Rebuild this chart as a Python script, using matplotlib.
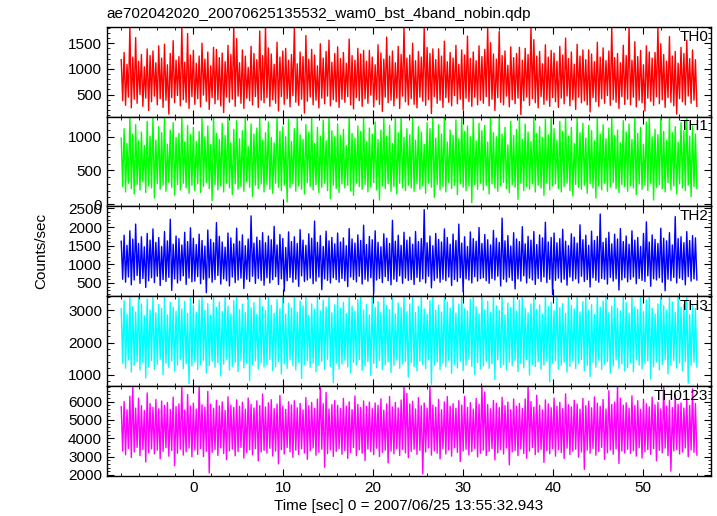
import numpy as np
import matplotlib
matplotlib.use("Agg")
import matplotlib.pyplot as plt
from matplotlib.ticker import MultipleLocator

plt.rcParams['font.family'] = ['Liberation Sans', 'DejaVu Sans']
plt.rcParams['font.size'] = 11

TITLE = "ae702042020_20070625135532_wam0_bst_4band_nobin.qdp"
XLABEL = "Time [sec] 0 = 2007/06/25 13:55:32.943"
YLABEL = "Counts/sec"
T_START, T_END = -8.0, 56.0

# The light curves are far too dense to read bin by bin, so each panel is
# read as the upper and lower edge of the trace in 0.32 s slices (counts/sec).
th0_hi = [
    1180, 1320, 1090, 1820, 1230, 1610, 1150, 1280, 1040, 1390, 1260, 1350, 1120, 1450, 1210, 1480, 1080, 1300, 1550, 1170, 1240, 1820, 1130, 1690, 1270,
    1360, 1110, 1250, 1500, 1190, 1330, 1060, 1420, 1380, 1220, 1310, 1140, 1460, 1280, 1820, 1590, 1120, 1370, 1250, 1030, 1440, 1300, 1180, 1740, 1260,
    1820, 1410, 1290, 1090, 1520, 1230, 1350, 1400, 1170, 1280, 1820, 1100, 1330, 1240, 1650, 1190, 1380, 1270, 1060, 1490, 1210, 1340, 1560, 1130, 1300,
    1430, 1200, 1320, 1110, 1580, 1260, 1170, 1400, 1290, 1360, 1150, 1360, 1230, 1080, 1470, 1310, 1190, 1620, 1250, 1350, 1120, 1440, 1280, 1820, 1210,
    1270, 1500, 1160, 1340, 1230, 1820, 1420, 1300, 1390, 1180, 1390, 1250, 1540, 1140, 1320, 1210, 1460, 1090, 1370, 1270, 1640, 1200, 1330, 1160, 1450,
    1240, 1380, 1820, 1510, 1290, 1190, 1730, 1260, 1350, 1070, 1430, 1220, 1300, 1420, 1170, 1400, 1280, 1820, 1570, 1250, 1340, 1100, 1470, 1230, 1360,
    1310, 1150, 1440, 1270, 1600, 1200, 1330, 1090, 1480, 1250, 1370, 1180, 1370, 1290, 1140, 1520, 1230, 1410, 1160, 1350, 1820, 1220, 1300, 1120, 1460,
    1260, 1820, 1170, 1530, 1240, 1360, 1080, 1450, 1330, 1210, 1320, 1820, 1490, 1280, 1150, 1630, 1250, 1340, 1110, 1420, 1300, 1560, 1200, 1370, 1180,
]
th0_lo = [
    380, 290, 450, 240, 410, 330, 500, 270, 430, 190, 360, 470, 300, 420, 250, 390, 120, 440, 340, 480, 280, 400, 350, 230, 460,
    310, 420, 260, 490, 370, 210, 440, 320, 400, 280, 150, 450, 350, 410, 270, 470, 330, 230, 430, 380, 300, 460, 250, 390, 340,
    440, 270, 400, 330, 180, 460, 310, 420, 260, 480, 350, 290, 410, 140, 370, 450, 300, 390, 240, 430, 320, 470, 280, 400, 360,
    250, 410, 350, 460, 300, 220, 440, 380, 270, 420, 330, 490, 260, 400, 310, 170, 450, 340, 390, 280, 430, 230, 470, 360, 300,
    420, 310, 240, 450, 370, 290, 400, 130, 460, 330, 390, 250, 440, 350, 280, 480, 320, 410, 200, 430, 360, 270, 450, 300, 390,
    330, 460, 280, 410, 190, 440, 350, 300, 470, 260, 400, 320, 430, 110, 380, 450, 290, 420, 340, 240, 460, 310, 390, 270, 440,
    360, 250, 430, 320, 470, 280, 400, 210, 450, 340, 380, 300, 160, 440, 360, 270, 420, 330, 480, 290, 400, 350, 230, 460, 310,
    410, 300, 450, 260, 390, 340, 180, 430, 370, 290, 460, 320, 400, 250, 440, 350, 280, 120, 420, 360, 300, 470, 330, 390, 270,
]
th1_hi = [
    980, 1120, 900, 1300, 1040, 1180, 940, 1070, 870, 1230, 1010, 1300, 950, 1150, 1060, 1300, 890, 1100, 1210, 990, 1050, 1300, 920, 1170, 1030,
    1140, 930, 1080, 1270, 1000, 1160, 880, 1300, 1050, 960, 1200, 1020, 1300, 910, 1110, 1240, 970, 1090, 1300, 860, 1190, 1040, 1130, 1300, 950,
    1060, 1220, 990, 910, 1300, 1080, 1150, 1000, 1260, 930, 1120, 1300, 1030, 960, 1180, 1070, 1300, 900, 1140, 1010, 1250, 940, 1300, 1090, 1000,
    1190, 1020, 1110, 870, 1300, 1050, 980, 1160, 1080, 1300, 930, 1130, 1040, 1220, 960, 1100, 1300, 1010, 1170, 900, 1280, 1060, 1300, 990, 1120,
    1030, 1300, 950, 1150, 1070, 890, 1210, 1120, 1300, 980, 1180, 1040, 1300, 920, 1100, 1020, 1250, 970, 1300, 1080, 1160, 1000, 1300, 940, 1200,
    1090, 1170, 920, 1300, 1060, 1000, 1300, 1040, 1140, 880, 1230, 1020, 1110, 1300, 960, 1190, 1070, 930, 1300, 1050, 1150, 990, 1260, 1030, 1300,
    1120, 950, 1230, 1080, 1300, 1010, 1140, 900, 1300, 1060, 1200, 980, 1170, 1090, 940, 1300, 1040, 1180, 970, 1130, 1300, 1020, 1100, 910, 1240,
    1070, 1190, 960, 1300, 1050, 1140, 890, 1220, 1300, 1000, 1110, 1030, 1270, 1080, 950, 1300, 1060, 1150, 920, 1210, 1090, 1300, 1010, 1160, 1040,
]
th1_lo = [
    260, 180, 310, 230, 150, 290, 210, 330, 170, 270, 240, 90, 300, 220, 280, 190, 320, 250, 130, 290, 210, 310, 240, 160, 280,
    200, 300, 170, 260, 320, 230, 50, 290, 210, 270, 180, 310, 240, 140, 300, 220, 260, 190, 330, 250, 110, 280, 230, 300, 180,
    290, 220, 160, 310, 250, 200, 280, 30, 240, 300, 190, 270, 220, 150, 320, 260, 210, 290, 170, 250, 310, 200, 80, 280, 230,
    170, 300, 240, 280, 200, 130, 310, 260, 220, 290, 180, 250, 320, 210, 60, 270, 230, 300, 190, 260, 150, 310, 240, 200, 280,
    240, 190, 300, 220, 270, 160, 310, 250, 100, 290, 210, 260, 180, 320, 230, 280, 140, 300, 250, 200, 270, 20, 290, 220, 310,
    210, 280, 150, 300, 240, 190, 270, 320, 230, 170, 290, 250, 70, 310, 200, 260, 220, 300, 180, 280, 240, 130, 310, 210, 270,
    300, 230, 180, 260, 310, 200, 120, 290, 250, 220, 280, 160, 300, 240, 90, 270, 210, 310, 190, 250, 320, 230, 170, 290, 260,
    190, 270, 240, 140, 300, 220, 280, 200, 310, 60, 250, 290, 230, 180, 320, 210, 270, 150, 300, 240, 200, 280, 110, 260, 230,
]
th2_hi = [
    1620, 1780, 1510, 1900, 1680, 2080, 1560, 1740, 1470, 1830, 1650, 1950, 1590, 1720, 1480, 1880, 1630, 2210, 1540, 1760, 1690, 1520, 1860, 1610, 1980,
    1700, 1530, 1810, 1640, 1490, 1920, 1670, 1580, 2120, 1750, 1600, 1460, 1840, 1710, 1550, 1970, 1620, 1790, 1500, 1680, 2300, 1570, 1730, 1640, 1850,
    1580, 1760, 1660, 2020, 1520, 1800, 1690, 1450, 1870, 1610, 1740, 1560, 1930, 1650, 1510, 1820, 1700, 2160, 1590, 1770, 1480, 1890, 1630, 1720, 1550,
    1840, 1600, 1710, 1500, 1960, 1680, 1570, 1790, 1640, 2050, 1530, 1750, 1660, 1900, 1590, 1470, 1820, 1700, 1560, 2180, 1620, 1780, 1510, 1860, 1650,
    1730, 1540, 1880, 1610, 1690, 2470, 1580, 1760, 1500, 1830, 1670, 1600, 1950, 1720, 1540, 1810, 1640, 2080, 1570, 1740, 1480, 1870, 1690, 1620, 1990,
    1560, 1800, 1660, 1520, 1910, 1700, 1590, 2240, 1630, 1770, 1490, 1850, 1680, 1610, 2010, 1550, 1750, 1650, 1880, 1530, 1790, 1710, 2130, 1600, 1720,
    1840, 1580, 1690, 1940, 1620, 1500, 1820, 1730, 1570, 2060, 1660, 1780, 1510, 1890, 1640, 1750, 2350, 1590, 1700, 1860, 1550, 1810, 1680, 1960, 1610,
    1760, 1540, 1900, 1650, 1720, 1480, 1830, 2140, 1600, 1790, 1670, 1560, 1970, 1700, 1630, 1850, 1520, 2280, 1690, 1740, 1580, 1880, 1640, 1770, 1710,
]
th2_lo = [
    600, 520, 660, 450, 580, 700, 490, 620, 380, 560, 640, 510, 680, 430, 590, 540, 650, 300, 610, 500, 570, 690, 460, 630, 530,
    550, 670, 480, 600, 240, 640, 520, 590, 700, 470, 610, 560, 420, 660, 510, 580, 630, 350, 600, 540, 680, 490, 620, 570, 440,
    640, 500, 590, 670, 460, 610, 280, 560, 650, 520, 600, 410, 690, 540, 580, 630, 480, 550, 660, 320, 610, 570, 500, 640, 590,
    520, 620, 560, 400, 660, 590, 530, 680, 470, 600, 550, 640, 220, 580, 620, 510, 670, 560, 450, 600, 540, 690, 490, 630, 570,
    590, 460, 650, 540, 610, 500, 680, 370, 570, 630, 520, 600, 560, 660, 430, 590, 540, 640, 260, 610, 580, 500, 670, 550, 620,
    640, 560, 490, 620, 580, 680, 420, 600, 530, 650, 570, 340, 610, 550, 690, 500, 630, 580, 460, 620, 540, 660, 510, 600, 190,
    570, 630, 520, 600, 440, 660, 560, 610, 500, 680, 540, 590, 390, 640, 570, 520, 620, 600, 470, 650, 550, 610, 310, 580, 640,
    530, 600, 660, 480, 620, 570, 540, 690, 410, 610, 580, 640, 520, 290, 600, 560, 650, 500, 630, 590, 450, 670, 550, 610, 580,
]
th3_hi = [
    3050, 3300, 2880, 3440, 3120, 2950, 3440, 3200, 2830, 3350, 3010, 3440, 2920, 3180, 3060, 3440, 2860, 3250, 3100, 2970, 3440, 3040, 3280, 2900, 3440,
    3150, 2940, 3320, 3440, 3000, 3210, 2850, 3440, 3090, 3260, 2960, 3440, 3130, 2890, 3300, 3440, 3020, 3190, 2930, 3440, 3080, 3240, 2870, 3440, 3110,
    2990, 3440, 3160, 2910, 3340, 3050, 3440, 2880, 3220, 3070, 3440, 2950, 3290, 3140, 3440, 2840, 3200, 3030, 3440, 2980, 3310, 3100, 3440, 2920, 3170,
    3440, 3060, 3250, 2900, 3440, 3130, 2970, 3330, 3440, 3010, 3180, 2860, 3440, 3090, 3270, 2940, 3440, 3150, 3020, 3440, 2890, 3230, 3080, 3440, 2960,
    3200, 3440, 2930, 3120, 3440, 3040, 2870, 3300, 3440, 3000, 3160, 2950, 3440, 3260, 3070, 3440, 2910, 3190, 3440, 3050, 2980, 3340, 3440, 3110, 2890,
    3440, 3020, 3280, 2940, 3440, 3140, 3000, 3440, 2860, 3230, 3090, 3440, 2970, 3310, 3440, 3060, 2920, 3200, 3440, 3030, 3170, 2880, 3440, 3120, 3250,
    2990, 3440, 3080, 3210, 2900, 3440, 3150, 3040, 3440, 2950, 3270, 3440, 3010, 3180, 2870, 3440, 3100, 3290, 3440, 2930, 3130, 3440, 3060, 2980, 3440,
    3240, 2910, 3440, 3110, 3030, 3440, 2960, 3320, 3440, 3070, 2890, 3200, 3440, 3140, 3000, 3440, 3260, 2940, 3440, 3090, 3190, 3440, 2870, 3160, 3050,
]
th3_lo = [
    1350, 1200, 1460, 1080, 1290, 1410, 1150, 1380, 900, 1250, 1440, 1170, 1320, 1480, 1000, 1360, 1220, 1430, 1110, 1300, 1470, 1190, 1340, 720, 1270,
    1400, 1160, 1310, 1450, 1050, 1280, 1420, 1230, 1370, 960, 1330, 1480, 1140, 1260, 1390, 1100, 1450, 1210, 1350, 820, 1300, 1430, 1180, 1370, 1240,
    1300, 1470, 1130, 1250, 1410, 1020, 1340, 1200, 1460, 1280, 1150, 1390, 880, 1320, 1440, 1230, 1360, 1090, 1290, 1420, 1170, 1480, 1260, 760, 1350,
    1180, 1330, 1450, 1240, 1060, 1380, 1300, 1470, 1140, 1270, 1410, 980, 1350, 1220, 1440, 1160, 1310, 1400, 1070, 1280, 1460, 1200, 1340, 1420, 930,
    1380, 1250, 1120, 1430, 1310, 1190, 1470, 700, 1290, 1400, 1160, 1360, 1240, 1450, 1040, 1330, 1210, 1420, 1130, 1300, 1480, 1260, 1010, 1370, 1180,
    1270, 1410, 1200, 1340, 850, 1460, 1230, 1310, 1150, 1390, 1280, 1440, 1100, 1350, 1210, 1470, 990, 1320, 1250, 1400, 1170, 1300, 1430, 780, 1360,
    1440, 1170, 1300, 1390, 1080, 1260, 1420, 1190, 1350, 1470, 1120, 1290, 940, 1380, 1230, 1450, 1160, 1330, 1410, 1050, 1270, 1460, 1200, 1340, 1110,
    1220, 1380, 1090, 1460, 1300, 1180, 1350, 1430, 870, 1250, 1400, 1150, 1320, 1470, 1030, 1290, 1440, 1210, 1360, 1120, 1410, 740, 1280, 1390, 1240,
]
th0123_hi = [
    5720, 6010, 5560, 6300, 6860, 5650, 6190, 5780, 5520, 6480, 5900, 5690, 6120, 5610, 6040, 5800, 5950, 5580, 6250, 5730, 5880, 6860, 5540, 6390, 5760,
    5920, 5600, 6860, 5830, 5700, 6560, 5860, 5640, 6080, 5770, 5990, 5530, 6270, 5810, 5680, 6100, 5740, 5970, 5590, 6200, 5850, 5660, 6050, 5790, 6420,
    5710, 5940, 6110, 5620, 5870, 6340, 5750, 5580, 6000, 5820, 6050, 5670, 5910, 5550, 6230, 5780, 5960, 5640, 6140, 6860, 5890, 6510, 5600, 5840, 6060,
    5800, 5630, 6180, 5760, 5990, 5570, 6310, 5850, 5690, 6040, 5740, 5980, 5620, 5930, 5800, 6160, 5540, 5880, 6280, 5710, 5960, 5660, 6090, 6860, 6450,
    5870, 6020, 5600, 6220, 5780, 5930, 5650, 6860, 5820, 5700, 6130, 5560, 5990, 6280, 5750, 5890, 5640, 6060, 5810, 6290, 5690, 5950, 5590, 6170, 5860,
    6860, 6530, 5840, 5610, 6070, 5920, 5680, 6240, 5790, 5980, 5570, 6150, 5760, 5900, 5630, 6150, 6860, 6010, 5700, 6350, 5800, 5550, 6100, 5880, 5670,
    6200, 5750, 5960, 5620, 6430, 5830, 5710, 6080, 5870, 5590, 6180, 5780, 6030, 5660, 6260, 5920, 5740, 6120, 5600, 6600, 5850, 5980, 6860, 6190, 5810,
    5940, 5640, 6320, 5790, 6050, 5580, 6140, 5890, 5720, 6250, 5830, 5970, 5610, 6860, 5760, 6070, 5680, 6400, 5860, 5930, 5650, 6180, 5800, 6700, 5900,
]
th0123_lo = [
    3300, 3100, 3450, 2950, 3250, 3500, 3050, 3380, 2700, 3200, 3420, 3150, 3350, 2880, 3280, 3480, 3020, 3330, 2500, 3180, 3400, 3080, 3260, 3460, 2990,
    3360, 3120, 3440, 3000, 3290, 2100, 3230, 3390, 3060, 3470, 3170, 2830, 3310, 3410, 3040, 3270, 3500, 2920, 3210, 3370, 3090, 3430, 2760, 3250, 3340,
    3190, 3450, 3030, 3300, 2600, 3380, 3140, 3490, 3260, 2960, 3350, 3110, 3420, 3200, 2850, 3310, 3470, 3070, 3240, 3400, 2420, 3160, 3360, 3010, 3280,
    3440, 3130, 3320, 2900, 3220, 3490, 3050, 3370, 3180, 2780, 3410, 3270, 3100, 3460, 3000, 3230, 3350, 2650, 3290, 3150, 3430, 3060, 3390, 3200, 2940,
    3280, 3400, 3120, 3340, 2050, 3250, 3470, 3080, 3310, 3190, 2870, 3420, 3140, 3360, 3020, 3480, 3230, 2730, 3300, 3400, 3090, 3270, 3450, 2980, 3180,
    3350, 3060, 3290, 3440, 2820, 3210, 3380, 3140, 3470, 2550, 3260, 3330, 3050, 3410, 3170, 2910, 3300, 3490, 3100, 3240, 3390, 2680, 3320, 3150, 3430,
    3020, 3370, 3220, 2890, 3460, 3110, 3290, 3400, 2970, 3250, 2300, 3350, 3180, 3440, 3070, 3280, 3500, 2840, 3210, 3360, 3130, 3420, 2620, 3300, 3190,
    3400, 3170, 3320, 3030, 3480, 2920, 3260, 3380, 3120, 3430, 2770, 3340, 3200, 3460, 3050, 2200, 3310, 3390, 3140, 3250, 3470, 2990, 3360, 3230, 3080,
]

panels = [
    ("TH0", th0_hi, th0_lo, "#ff0000", (70, 1820), 500, 100),
    ("TH1", th1_hi, th1_lo, "#00ff00", (-35, 1300), 500, 100),
    ("TH2", th2_hi, th2_lo, "#0000ff", (145, 2555), 500, 100),
    ("TH3", th3_hi, th3_lo, "#00ffff", (650, 3440), 1000, 200),
    ("TH0123", th0123_hi, th0123_lo, "#ff00ff", (1950, 6860), 1000, 200),
]

fig, axes = plt.subplots(5, 1, figsize=(7.17, 5.16), dpi=100, sharex=True,
                         gridspec_kw=dict(hspace=0, left=0.149, right=0.992,
                                          top=0.948, bottom=0.078))

for ax, (name, hi, lo, c, yl, mj, mn) in zip(axes, panels):
    # trace runs up to the top edge and down to the bottom edge of each slice
    y = np.column_stack([hi, lo]).ravel()
    t = np.linspace(T_START, T_END, len(y))
    ax.plot(t, y, color=c, lw=1.0)
    ax.set_ylim(*yl)
    ax.set_xlim(-9.6, 57.6)
    ax.yaxis.set_major_locator(MultipleLocator(mj))
    ax.yaxis.set_minor_locator(MultipleLocator(mn))
    ax.xaxis.set_major_locator(MultipleLocator(10))
    ax.xaxis.set_minor_locator(MultipleLocator(2))
    ax.tick_params(which='both', direction='in', top=True, right=True, labelsize=11)
    ax.tick_params(which='major', length=5, width=0.8)
    ax.tick_params(which='minor', length=2.5, width=0.6)
    for s in ax.spines.values():
        s.set_linewidth(1.0)
        s.set_zorder(3)
    ax.text(0.995, 0.97, name, transform=ax.transAxes, ha='right', va='top',
            fontsize=11, zorder=4)

axes[-1].set_xlabel(XLABEL, fontsize=11, labelpad=3)
fig.text(0.149, 0.972, TITLE, ha='left', va='center', fontsize=11)
fig.text(0.057, 0.513, YLABEL, rotation=90, ha='center', va='center', fontsize=11)

fig.savefig("out.png", dpi=100)
